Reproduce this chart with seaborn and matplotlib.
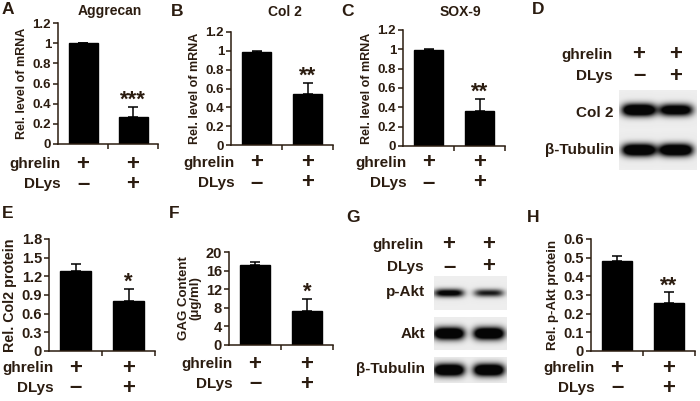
import numpy as np
import pandas as pd
import matplotlib
matplotlib.use('Agg')
import matplotlib.pyplot as plt
import matplotlib.transforms as mtrans
import seaborn as sns

# ── data ─────────────────────────────────────────────
groups = ['ghrelin+DLys-', 'ghrelin+DLys+']
ghrelin_signs = ['+', '+']
dlys_signs = ['–', '+']

aggrecan_mean = [1.00, 0.27]
aggrecan_err = [0.00, 0.10]
col2_mean = [0.99, 0.54]
col2_err = [0.01, 0.12]
sox9_mean = [0.99, 0.36]
sox9_err = [0.01, 0.13]
col2_prot_mean = [1.29, 0.81]
col2_prot_err = [0.11, 0.19]
gag_mean = [17.3, 7.4]
gag_err = [0.5, 2.5]
pakt_mean = [0.48, 0.255]
pakt_err = [0.03, 0.06]

# blot band intensities per lane
blot_d_col2 = [1.0, 0.85]
blot_d_tub = [1.0, 1.0]
blot_g_pakt = [0.70, 0.55]
blot_g_akt = [1.0, 1.0]
blot_g_tub = [1.0, 1.0]

sns.set_style('ticks')
plt.rcParams['font.family'] = ['Liberation Sans', 'DejaVu Sans']
plt.rcParams['font.weight'] = 'bold'
TXT = '#2b1c10'
plt.rcParams['text.color'] = TXT
plt.rcParams['axes.edgecolor'] = TXT
plt.rcParams['xtick.color'] = TXT
plt.rcParams['ytick.color'] = TXT
plt.rcParams['axes.labelcolor'] = TXT
plt.rcParams['axes.linewidth'] = 1.1

W, H = 700, 401
fig = plt.figure(figsize=(7, 4.01), dpi=100)
fig.patch.set_facecolor('white')

ROW_FS = 11
SIGN_FS = 16


def rect(l, t, r, b):
    return [l / W, 1 - b / H, (r - l) / W, (b - t) / H]


def ftext(x, y, s, **kw):
    fig.text(x / W, 1 - y / H, s, **kw)


def sign_rows(ax, x_label, y1, y2):
    tr = mtrans.blended_transform_factory(ax.transData, fig.transFigure)
    ftext(x_label, y1, 'ghrelin', ha='right', va='center', fontsize=ROW_FS, fontweight='bold')
    ftext(x_label, y2, 'DLys', ha='right', va='center', fontsize=ROW_FS, fontweight='bold')
    for i in range(2):
        ax.text(i, 1 - y1 / H, ghrelin_signs[i], transform=tr, ha='center', va='center',
                fontsize=SIGN_FS, fontweight='bold')
        ax.text(i, 1 - y2 / H, dlys_signs[i], transform=tr, ha='center', va='center',
                fontsize=SIGN_FS, fontweight='bold')


def bar_panel(box, mean, err, ymax, step, fmt, ylabel, star, rows_y,
              tick_fs=9.5, label_fs=9, label_dx=22):
    ax = fig.add_axes(rect(*box))
    df = pd.DataFrame({'group': groups, 'value': mean})
    sns.barplot(data=df, x='group', y='value', ax=ax, color='black', width=0.58,
                errorbar=None, saturation=1, edgecolor='black')
    ax.errorbar([0, 1], mean, yerr=[[0, 0], err], fmt='none', ecolor='black',
                elinewidth=1.1, capsize=3.5, capthick=1.1)
    ax.set_xlim(-0.5, 1.5)
    ax.set_ylim(0, ymax)
    ticks = np.arange(0, ymax + step / 2, step)
    ax.set_yticks(ticks)
    ax.set_yticklabels([fmt(t) for t in ticks], fontsize=tick_fs, fontweight='bold')
    ax.set_xticks([0.5, 1.5])
    ax.set_xticklabels([])
    ax.tick_params(axis='both', direction='out', length=3.5, width=1.1, pad=1.5)
    ax.set_xlabel('')
    ax.set_ylabel(ylabel, fontsize=label_fs, fontweight='bold', labelpad=3, linespacing=1.0)
    sns.despine(ax=ax)
    ax.annotate(star, (1, mean[1] + err[1]), xytext=(0, -3), textcoords='offset points',
                ha='center', va='bottom', fontsize=16, fontweight='bold')
    x0 = ax.transData.transform((0, 0))[0] * W / fig.bbox.width
    sign_rows(ax, x0 - label_dx, rows_y[0], rows_y[1])
    return ax


def fmt_dec(t):
    s = f'{t:.1f}'
    return '0' if abs(t) < 1e-9 else (s[:-2] if s.endswith('.0') else s)


def fmt_int(t):
    return f'{int(round(t))}'


def blot(box, lanes, intens, half_w=15.5, band_h=4.6, bg=0.93):
    ax = fig.add_axes(rect(*box))
    l, t, r, b = box
    w, h = int(r - l) * 4, int(b - t) * 4
    xs = np.linspace(l, r, w)
    ys = np.linspace(t, b, h)
    X, Y = np.meshgrid(xs, ys)
    cy = (t + b) / 2
    dark = np.zeros_like(X)
    for cx, k in zip(lanes, intens):
        dark += k * np.exp(-((X - cx) / half_w) ** 4) * np.exp(-((Y - cy) / (band_h + 1.6 * k)) ** 2)
    img = bg - (bg - 0.02) * np.clip(dark * 1.7, 0, 1)
    ax.imshow(img, cmap='gray', vmin=0, vmax=1, aspect='auto', interpolation='bilinear')
    ax.axis('off')
    return ax


# ── panel letters / titles ───────────────────────────
for s, x, y in [('A', 8, 10), ('B', 177, 11), ('C', 348, 11), ('D', 538, 10),
                ('E', 8, 213), ('F', 174, 214), ('G', 353, 218), ('H', 533, 218)]:
    ftext(x, y, s, ha='center', va='center', fontsize=12.5, fontweight='bold')
for s, x, y in [('Aggrecan', 110, 11), ('Col 2', 285, 12), ('SOX-9', 460, 12)]:
    ftext(x, y, s, ha='center', va='center', fontsize=10, fontweight='bold')

# ── A, B, C : mRNA ───────────────────────────────────
bar_panel((58, 23, 158, 144), aggrecan_mean, aggrecan_err, 1.2, 0.2, fmt_dec,
          'Rel. level of mRNA', '***', (164, 184))
bar_panel((231, 32, 333, 145), col2_mean, col2_err, 1.2, 0.2, fmt_dec,
          'Rel. level of mRNA', '**', (163, 183))
bar_panel((403, 30, 505, 146), sox9_mean, sox9_err, 1.2, 0.2, fmt_dec,
          'Rel. level of mRNA', '**', (163, 183))

# ── E, F, H : protein / GAG ──────────────────────────
bar_panel((49, 239, 155, 351), col2_prot_mean, col2_prot_err, 1.8, 0.3, fmt_dec,
          'Rel. Col2 protein', '*', (368, 388), tick_fs=10.5, label_fs=10.3)
bar_panel((229, 252, 333, 345), gag_mean, gag_err, 20, 4, fmt_int,
          'GAG Content\n(μg/ml)', '*', (364, 384), tick_fs=10.5, label_fs=9.5)
bar_panel((591, 239, 695, 351), pakt_mean, pakt_err, 0.6, 0.1, fmt_dec,
          'Rel. p-Akt protein', '**', (368, 388), tick_fs=10.5, label_fs=9.5)

# ── D : western blot ─────────────────────────────────
d_lanes = [639, 676]
blot((619, 90, 697, 130), d_lanes, blot_d_col2, half_w=17)
blot((619, 130, 697, 170), d_lanes, blot_d_tub, half_w=17)
ftext(613, 55, 'ghrelin', ha='right', va='center', fontsize=ROW_FS, fontweight='bold')
ftext(613, 76, 'DLys', ha='right', va='center', fontsize=ROW_FS, fontweight='bold')
for i, cx in enumerate(d_lanes):
    ftext(cx, 55, ghrelin_signs[i], ha='center', va='center', fontsize=SIGN_FS, fontweight='bold')
    ftext(cx, 76, dlys_signs[i], ha='center', va='center', fontsize=SIGN_FS, fontweight='bold')
ftext(614, 113, 'Col 2', ha='right', va='center', fontsize=ROW_FS, fontweight='bold')
ftext(614, 150, 'β-Tubulin', ha='right', va='center', fontsize=ROW_FS, fontweight='bold')

# ── G : western blot ─────────────────────────────────
g_lanes = [449, 489]
blot((434, 276, 507, 310), g_lanes, blot_g_pakt, half_w=15, band_h=3.0)
blot((434, 317, 507, 350), g_lanes, blot_g_akt, half_w=15.5)
blot((434, 357, 507, 383), g_lanes, blot_g_tub, half_w=15.5)
ftext(424, 245, 'ghrelin', ha='right', va='center', fontsize=ROW_FS, fontweight='bold')
ftext(424, 267, 'DLys', ha='right', va='center', fontsize=ROW_FS, fontweight='bold')
for i, cx in enumerate(g_lanes):
    ftext(cx, 245, ghrelin_signs[i], ha='center', va='center', fontsize=SIGN_FS, fontweight='bold')
    ftext(cx, 267, dlys_signs[i], ha='center', va='center', fontsize=SIGN_FS, fontweight='bold')
ftext(425, 292, 'p-Akt', ha='right', va='center', fontsize=ROW_FS, fontweight='bold')
ftext(425, 334, 'Akt', ha='right', va='center', fontsize=ROW_FS, fontweight='bold')
ftext(425, 369, 'β-Tubulin', ha='right', va='center', fontsize=ROW_FS, fontweight='bold')

fig.savefig('out.png', dpi=100)
plt.close(fig)
